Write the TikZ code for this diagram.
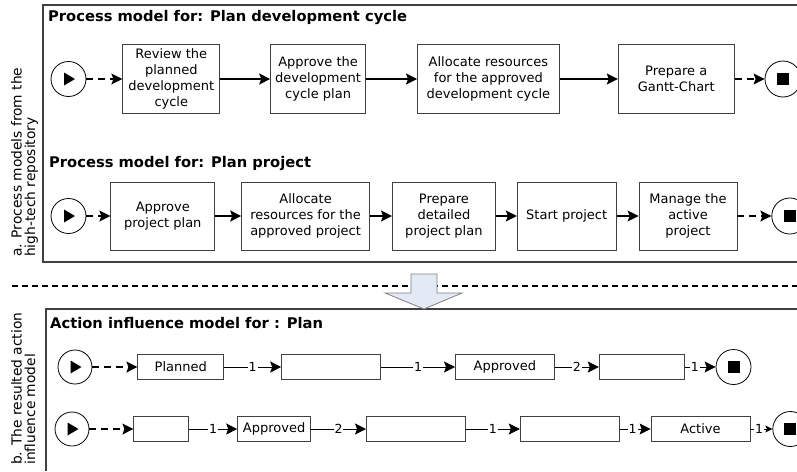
\documentclass[tikz,border=0pt]{standalone}
\usepackage{fontspec}
\setmainfont{DejaVu Sans}
\usetikzlibrary{arrows.meta,positioning}
\definecolor{arrowfill}{HTML}{E3EAF6}
\tikzset{
    %Define standard arrow tip
    >={Stealth[length=11pt,width=11pt,inset=2pt]},
    %Define style for tasks
    task/.style={
           rectangle,
           draw=black!75, line width=0.8pt,
           minimum height=69pt,
           inner sep=2pt,
           font=\fontsize{13}{16}\selectfont,
           align=center},
    statebox/.style={
           rectangle,
           draw=black!75, line width=0.8pt,
           minimum height=25pt,
           inner sep=2pt,
           font=\fontsize{13}{16}\selectfont},
    %Define style for events
    startev/.style={
           circle,
           draw=black, line width=0.8pt,
           inner sep=0pt,
           minimum size=35pt,
           path picture={\fill ([xshift=-4.5pt,yshift=6.5pt]path picture bounding box.center)
                -- ++(11pt,-6.5pt) -- ++(-11pt,-6.5pt) -- cycle;}},
    endev/.style={
           circle,
           draw=black, line width=0.8pt,
           inner sep=0pt,
           minimum size=36pt,
           path picture={\fill ([xshift=-6pt,yshift=-6pt]path picture bounding box.center)
                rectangle ++(12pt,12pt);}},
    heading/.style={
           anchor=west,
           inner sep=0pt,
           font=\bfseries\fontsize{14.7}{17}\selectfont},
    side/.style={
           rotate=90,
           anchor=north west,
           inner sep=0pt,
           align=left,
           font=\fontsize{13.8}{13.5}\selectfont},
    % Define arrow style
    flow/.style={->, line width=1.2pt},
    dflow/.style={flow, dash pattern=on 7pt off 5pt},
    infl/.style={->, line width=0.9pt},
    num/.style={fill=white, inner sep=1pt, font=\fontsize{12.5}{14}\selectfont},
    framel/.style={line width=1.3pt, draw=black!75}
}
\begin{document}
\begin{tikzpicture}[x=1pt,y=-1pt]
\useasboundingbox (0,0) rectangle (797,471);

 %frames
\draw[framel] (797,5) -- (43,5) -- (43,262) -- (797,262);
\draw[framel] (797,309) -- (46,309) -- (46,471);
\draw[line width=1.5pt, dash pattern=on 6pt off 4pt] (12,286) -- (797,286);
\draw[fill=arrowfill, draw=black!50, line width=0.8pt]
    (411,274) -- (437,274) -- (437,293) -- (462,293) -- (424,309) -- (385,293) -- (411,293) -- cycle;

\node[side](lbla) at (11,257){a. Process models from the\\high-tech repository};
\node[side](lblb) at (11,465){b. The resulted action\\influence model};

\node[heading](h1) at (48,18){Process model for: Plan development cycle};
\node[heading](h2) at (49,163){Process model for: Plan project};
\node[heading](h3) at (50,323){Action influence model for : Plan};

 %plan development cycle
\node[startev](s1) at (68.5,79){};
\node[task, minimum width=97pt, right=36pt of s1](t11){Review the\\planned\\development\\cycle};
\node[task, minimum width=95pt, right=50pt of t11](t12){Approve the\\development\\cycle plan};
\node[task, minimum width=142pt, right=51pt of t12](t13){Allocate resources\\for the approved\\development cycle};
\node[task, minimum width=116pt, right=58pt of t13](t14){Prepare a\\Gantt-Chart};
\node[endev, right=30pt of t14](e1){};
\path (s1) edge[dflow] (t11)
    (t11) edge[flow] (t12)
    (t12) edge[flow] (t13)
    (t13) edge[flow] (t14)
    (t14) edge[dflow] (e1);

 %plan project
\node[startev](s2) at (68.5,216){};
\node[task, minimum height=68pt, minimum width=104pt, right=24pt of s2](t21){Approve\\project plan};
\node[task, minimum height=68pt, minimum width=128pt, right=26pt of t21](t22){Allocate\\resources for the\\approved project};
\node[task, minimum height=68pt, minimum width=103pt, right=22pt of t22](t23){Prepare\\detailed\\project plan};
\node[task, minimum height=68pt, minimum width=99pt, right=21pt of t23](t24){Start project};
\node[task, minimum height=68pt, minimum width=98pt, right=22pt of t24](t25){Manage the\\active\\project};
\node[endev, right=34pt of t25](e2){};
\path (s2) edge[dflow] (t21)
    (t21) edge[flow] (t22)
    (t22) edge[flow] (t23)
    (t23) edge[flow] (t24)
    (t24) edge[flow] (t25)
    (t25) edge[dflow] (e2);

 %action influence model
\node[startev, minimum size=34pt](s3) at (75,367){};
\node[statebox, minimum width=86pt, right=45pt of s3](a1){Planned};
\node[statebox, minimum width=99pt, right=57pt of a1](a2){};
\node[statebox, minimum width=99pt, right=74pt of a2](a3){Approved};
\node[statebox, minimum width=85pt, right=44pt of a3](a4){};
\node[endev, minimum size=35pt, right=31pt of a4](e3){};
\path (s3) edge[dflow] (a1)
    (a1) edge[infl] node[num]{1} (a2)
    (a2) edge[infl] node[num]{1} (a3)
    (a3) edge[infl] node[num]{2} (a4)
    (a4) edge[infl] node[num, pos=0.33]{1} (e3);

\node[startev, minimum size=34pt](s4) at (72,429){};
\node[statebox, minimum width=55pt, right=44pt of s4](b1){};
\node[statebox, minimum width=73pt, right=48pt of b1](b2){Approved};
\node[statebox, minimum width=99pt, right=55pt of b2](b3){};
\node[statebox, minimum width=99pt, right=54pt of b3](b4){};
\node[statebox, minimum width=99pt, right=31pt of b4](b5){Active};
\node[endev, minimum size=35pt, right=22pt of b5](e4){};
\path (s4) edge[dflow] (b1)
    (b1) edge[infl] node[num]{1} (b2)
    (b2) edge[infl] node[num]{2} (b3)
    (b3) edge[infl] node[num]{1} (b4)
    (b4) edge[infl] node[num, pos=0.42]{1} (b5)
    (b5) edge[infl, -{Stealth[length=7pt,width=7pt,inset=1.5pt]}] node[num, pos=0.4]{1} (e4);
\end{tikzpicture}
\end{document}
